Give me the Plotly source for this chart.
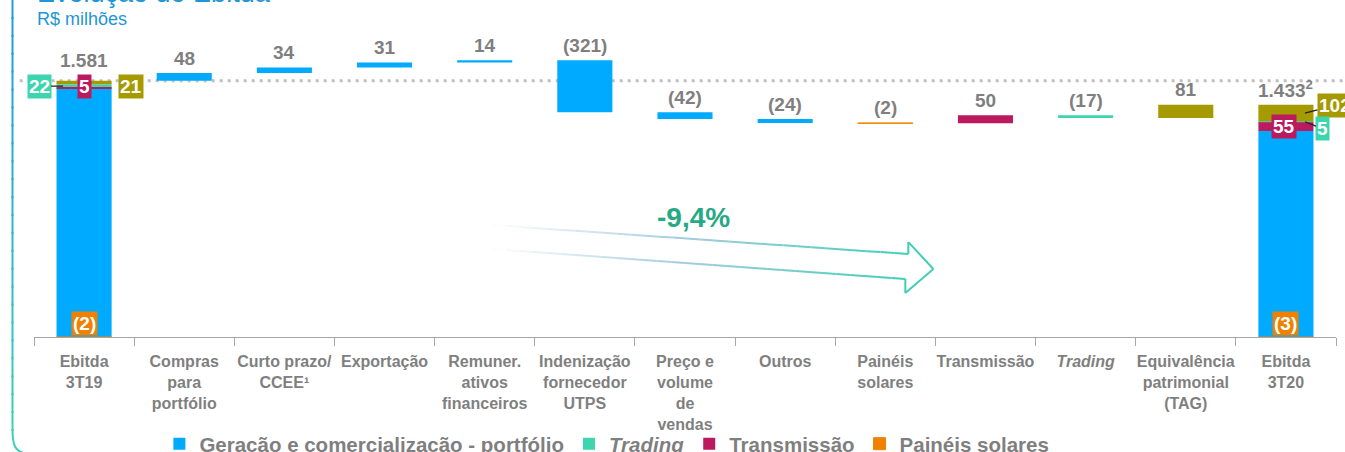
import plotly.graph_objects as go

# ---------------- data ----------------
categories = [
    "Ebitda<br>3T19",
    "Compras<br>para<br>portfólio",
    "Curto prazo/<br>CCEE¹",
    "Exportação",
    "Remuner.<br>ativos<br>financeiros",
    "Indenização<br>fornecedor<br>UTPS",
    "Preço e<br>volume<br>de<br>vendas",
    "Outros",
    "Painéis<br>solares",
    "Transmissão",
    "<i>Trading</i>",
    "Equivalência<br>patrimonial<br>(TAG)",
    "Ebitda<br>3T20",
]

# stacking order of the two Ebitda totals (bottom -> top)
segment_keys = ["solar", "geracao", "transmissao", "trading", "equivalencia"]
ebitda_3t19_parts = [-2, 1535, 5, 22, 21]
ebitda_3t20_parts = [-3, 1274, 55, 5, 102]

# bridge steps between the totals
step_values = [48, 34, 31, 14, -321, -42, -24, -2, 50, -17, 81]
step_keys = ["geracao"] * 7 + ["solar", "transmissao", "trading", "equivalencia"]

total_footnotes = ["", "2"]
variation_label = "-9,4%"

series_names = {
    "geracao": "Geração e comercialização - portfólio",
    "trading": "<i>Trading</i>",
    "transmissao": "Transmissão",
    "solar": "Painéis solares",
    "equivalencia": "Equivalência patrimonial (TAG)",
}
series_colors = {
    "geracao": "#00AAFF",
    "trading": "#3DD5AE",
    "transmissao": "#BC1A5E",
    "solar": "#F08000",
    "equivalencia": "#A59B00",
}
legend_keys = ["geracao", "trading", "transmissao", "solar"]

GRAY = "#7F7F7F"
FONT = "Liberation Sans, Arial, sans-serif"


def fmt(v):
    s = f"{abs(v):,}".replace(",", ".")
    return s if v >= 0 else f"({s})"


# ---------------- build floating bars ----------------
bars = {k: {"x": [], "base": [], "y": []} for k in series_names}


def add(key, cat, base, val):
    bars[key]["x"].append(cat)
    bars[key]["base"].append(base)
    bars[key]["y"].append(val)


seg_mid = {}
run = 0
for k, v in zip(segment_keys, ebitda_3t19_parts):
    add(k, categories[0], run, v)
    seg_mid[(0, k)] = run + v / 2
    run += v
total_start = run

step_tops = []
for i, (k, v) in enumerate(zip(step_keys, step_values), start=1):
    add(k, categories[i], run, v)
    step_tops.append(max(run, run + v))
    run += v
bridge_end = run

run2 = 0
for k, v in zip(segment_keys, ebitda_3t20_parts):
    add(k, categories[-1], run2, v)
    seg_mid[(12, k)] = run2 + v / 2
    run2 += v
total_end = run2

fig = go.Figure()
for k in legend_keys + ["equivalencia"]:
    d = bars[k]
    fig.add_trace(go.Bar(
        x=d["x"], y=d["y"], base=d["base"], width=0.55,
        name=series_names[k], showlegend=(k in legend_keys),
        marker=dict(color=series_colors[k],
                    line=dict(width=1 if k == "solar" else 0, color=series_colors[k])),
        hoverinfo="skip",
    ))

annotations = []

# step value labels
for i, (v, top) in enumerate(zip(step_values, step_tops), start=1):
    annotations.append(dict(
        x=categories[i], y=top, text=f"<b>{fmt(v)}</b>", showarrow=False,
        yanchor="middle", yshift=15, font=dict(size=19, color=GRAY, family=FONT)))

# totals
for idx, tot, fn, ysh in [(0, total_start, total_footnotes[0], 20), (12, total_end, total_footnotes[1], 16)]:
    txt = fmt(tot) + (f"<sup>{fn}</sup>" if fn else "")
    annotations.append(dict(
        x=categories[idx], y=tot, text=f"<b>{txt}</b>", showarrow=False,
        yanchor="middle", yshift=ysh, font=dict(size=19, color=GRAY, family=FONT)))


def box(idx, y, val, key, xshift=0, yshift=0, ax=None, ay=None, yanchor="middle", size=19):
    a = dict(x=categories[idx], y=y, text=f"<b>{fmt(val)}</b>", bgcolor=series_colors[key],
             borderpad=1, font=dict(size=size, color="white", family=FONT),
             xshift=xshift, yshift=yshift)
    if ax is None:
        a.update(showarrow=False, yanchor=yanchor)
    else:
        a.update(showarrow=True, ax=ax, ay=ay, arrowhead=0, arrowwidth=1.3,
                 arrowcolor="#222222", standoff=0)
    annotations.append(a)


p19 = dict(zip(segment_keys, ebitda_3t19_parts))
p20 = dict(zip(segment_keys, ebitda_3t20_parts))
row19 = seg_mid[(0, "trading")]
box(0, row19, p19["trading"], "trading", xshift=-21, ax=-24, ay=0)
box(0, row19, p19["transmissao"], "transmissao")
box(0, row19, p19["equivalencia"], "equivalencia", xshift=47)
box(0, 0, p19["solar"], "solar", yanchor="bottom", yshift=1)

box(12, seg_mid[(12, "transmissao")], p20["transmissao"], "transmissao", xshift=-2)
box(12, seg_mid[(12, "equivalencia")], p20["equivalencia"], "equivalencia", xshift=19, ax=30, ay=-8)
box(12, seg_mid[(12, "trading")], p20["trading"], "trading", xshift=19, ax=18, ay=7)
box(12, 0, p20["solar"], "solar", yanchor="bottom", yshift=1)

# variation label
annotations.append(dict(
    x=6.08, y=735, text=f"<b>{variation_label}</b>", showarrow=False,
    font=dict(size=28, color="#27A985", family=FONT)))

# header texts (title is cut by the top edge)
annotations.append(dict(xref="paper", yref="paper", x=0.0005, y=0.969, xanchor="left",
                        yanchor="bottom", text="Evolução do Ebitda", showarrow=False,
                        font=dict(size=27, color="#1E96D7", family=FONT)))
annotations.append(dict(xref="paper", yref="paper", x=0.0005, y=0.944, xanchor="left",
                        yanchor="middle", text="R$ milhões", showarrow=False,
                        font=dict(size=18, color="#1E96D7", family=FONT)))

shapes = []
# dotted reference line at the starting Ebitda
shapes.append(dict(type="line", xref="paper", yref="y", x0=-0.011, x1=1.01,
                   y0=total_start, y1=total_start, layer="below",
                   line=dict(color="#BFBFBF", width=3, dash="3px,5px")))


# gradient arrow (decoration)
def mix(c0, c1, t):
    return "rgb(%d,%d,%d)" % tuple(round(a + (b - a) * t) for a, b in zip(c0, c1))


def grad(t):
    white, mid, teal = (255, 255, 255), (165, 205, 222), (64, 206, 180)
    return mix(white, mid, t / 0.45) if t < 0.45 else mix(mid, teal, (t - 0.45) / 0.55)


arrow_upper = [(4.08, 691), (8.23, 512)]
arrow_lower = [(4.08, 543), (8.20, 358)]
arrow_head = [(8.23, 512), (8.23, 586), (8.48, 420), (8.20, 272), (8.20, 358)]
N = 30
for (xa, ya), (xb, yb) in [arrow_upper, arrow_lower]:
    for j in range(N):
        t0, t1 = j / N, (j + 1) / N
        shapes.append(dict(type="line", xref="x", yref="y",
                           x0=xa + (xb - xa) * t0, y0=ya + (yb - ya) * t0,
                           x1=xa + (xb - xa) * t1, y1=ya + (yb - ya) * t1,
                           line=dict(color=grad((t0 + t1) / 2), width=2)))
for (xa, ya), (xb, yb) in zip(arrow_head[:-1], arrow_head[1:]):
    shapes.append(dict(type="line", xref="x", yref="y", x0=xa, y0=ya, x1=xb, y1=yb,
                       line=dict(color="rgb(64,206,180)", width=2)))

# frame on the left (blue -> teal) with rounded bottom corner
PL, PW, PH = 34, 1302, 337


def X(px):
    return (px - PL) / PW


def Y(py):
    return (PH - py) / PH


M = 24
for j in range(M):
    y0, y1 = 430 * j / M, 430 * (j + 1) / M
    shapes.append(dict(type="line", xref="paper", yref="paper",
                       x0=X(12.5), x1=X(12.5), y0=Y(y0 - 1), y1=Y(y1 + 1),
                       line=dict(color=mix((30, 155, 220), (60, 208, 182), (j + 0.5) / M), width=2)))
shapes.append(dict(type="path", xref="paper", yref="paper",
                   path=f"M {X(12.5)},{Y(429)} C {X(12.5)},{Y(446)} {X(15)},{Y(452)} {X(28)},{Y(454)}",
                   line=dict(color="rgb(60,208,182)", width=2)))

fig.update_layout(
    width=1345, height=452,
    margin=dict(l=PL, r=1345 - PL - PW, t=0, b=452 - PH, autoexpand=False),
    barmode="overlay",
    plot_bgcolor="rgba(0,0,0,0)", paper_bgcolor="white",
    font=dict(family=FONT, color=GRAY),
    showlegend=True,
    legend=dict(orientation="h", x=0.44, xanchor="center", y=-0.317, yanchor="middle",
                font=dict(size=20.5, color=GRAY, family=FONT, weight="bold"),
                bgcolor="rgba(0,0,0,0)", traceorder="normal"),
    xaxis=dict(type="category", categoryorder="array", categoryarray=categories,
               range=[-0.5, 12.5], showline=True, linecolor="#A6A6A6", linewidth=1,
               ticks="outside", tickson="boundaries", ticklen=8, tickcolor="#A6A6A6",
               tickangle=0, automargin=False, ticklabelstandoff=10,
               tickfont=dict(size=16, color=GRAY, family=FONT, weight="bold"),
               showgrid=False, zeroline=False, fixedrange=True),
    yaxis=dict(range=[0, 2080], visible=False, fixedrange=True),
    annotations=annotations,
    shapes=shapes,
)

fig.write_html("out.html", config={"displayModeBar": False},
               post_script="document.body.style.margin='0px';document.body.style.overflow='hidden';")
